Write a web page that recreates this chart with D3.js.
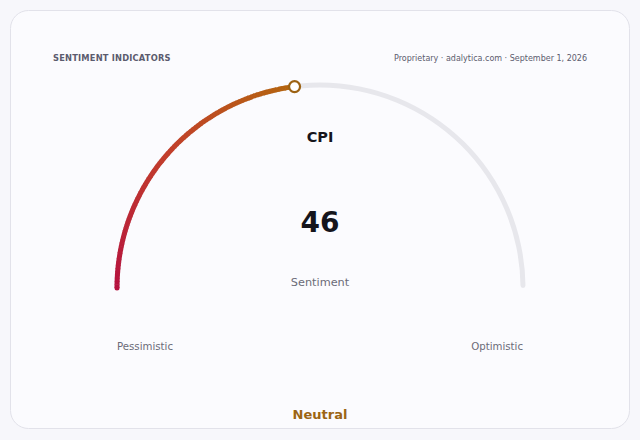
<!DOCTYPE html>
<html>
<head>
<meta charset="utf-8">
<script src="https://cdn.jsdelivr.net/npm/d3@7"></script>
<style>
  html, body { margin: 0; padding: 0; background: #f7f7fb; }
  svg { display: block; font-family: 'DejaVu Sans', sans-serif; }
</style>
</head>
<body>
<div id="chart"></div>
<script>
// gauge data
const indicator = 'CPI';
const value = 46;
const domainExtent = [0, 100];
const endLabels = ['Pessimistic', 'Optimistic'];
const subLabel = 'Sentiment';
const zoneLabel = 'Neutral';
const colorStops = [0, 23, 46];
const colorValues = ['#b5123f', '#c23e2b', '#b4660e'];

const width = 640;
const height = 440;
const cx = 320;
const cy = 288;
const radius = 203;
const thickness = 5;

const svg = d3.select('#chart')
  .append('svg')
  .attr('width', width)
  .attr('height', height);

// card
svg.append('rect')
  .attr('x', 10.5)
  .attr('y', 10.5)
  .attr('width', 619)
  .attr('height', 418)
  .attr('rx', 18)
  .attr('fill', '#fbfbfe')
  .attr('stroke', '#e2e2ea');

svg.append('text')
  .attr('x', 53)
  .attr('y', 61)
  .attr('fill', '#5b5b6e')
  .attr('font-size', '8.3px')
  .attr('font-weight', 'bold')
  .attr('letter-spacing', '0.2px')
  .text('SENTIMENT INDICATORS');

svg.append('text')
  .attr('x', 587)
  .attr('y', 61)
  .attr('text-anchor', 'end')
  .attr('fill', '#5b5b6e')
  .attr('font-size', '8px')
  .text('Proprietary · adalytica.com · September 1, 2026');

const angle = d3.scaleLinear()
  .domain(domainExtent)
  .range([-Math.PI / 2, Math.PI / 2]);

const color = d3.scaleLinear()
  .domain(colorStops)
  .range(colorValues)
  .interpolate(d3.interpolateRgb);

const g = svg.append('g').attr('transform', `translate(${cx}, ${cy})`);

const arc = d3.arc()
  .innerRadius(radius - thickness / 2)
  .outerRadius(radius + thickness / 2);

// background track
g.append('path')
  .attr('d', arc.cornerRadius(thickness / 2)({
    startAngle: angle(domainExtent[0]),
    endAngle: angle(domainExtent[1])
  }))
  .attr('fill', '#e7e7ec');

// value arc drawn as small coloured pieces
const step = 0.5;
const pieces = d3.range(domainExtent[0], value, step);
arc.cornerRadius(0);
g.selectAll('.piece')
  .data(pieces)
  .join('path')
  .attr('class', 'piece')
  .attr('d', (d) => arc({
    startAngle: angle(d),
    endAngle: angle(Math.min(d + step * 1.2, value))
  }))
  .attr('fill', (d) => color(d + step / 2));

// round cap at the start
g.append('circle')
  .attr('cx', radius * Math.sin(angle(domainExtent[0])))
  .attr('cy', -radius * Math.cos(angle(domainExtent[0])))
  .attr('r', thickness / 2)
  .attr('fill', color(0));

// marker
g.append('circle')
  .attr('cx', radius * Math.sin(angle(value)))
  .attr('cy', -radius * Math.cos(angle(value)))
  .attr('r', 5.5)
  .attr('fill', '#ffffff')
  .attr('stroke', '#9c6213')
  .attr('stroke-width', 2.2);

// centre texts
svg.append('text')
  .attr('x', cx)
  .attr('y', 142)
  .attr('text-anchor', 'middle')
  .attr('fill', '#15151c')
  .attr('font-size', '14.5px')
  .attr('font-weight', 'bold')
  .text(indicator);

svg.append('text')
  .attr('x', cx)
  .attr('y', 232)
  .attr('text-anchor', 'middle')
  .attr('fill', '#15151c')
  .attr('font-size', '28px')
  .attr('font-weight', 'bold')
  .text(value);

svg.append('text')
  .attr('x', cx)
  .attr('y', 286)
  .attr('text-anchor', 'middle')
  .attr('fill', '#6b6b78')
  .attr('font-size', '11.3px')
  .text(subLabel);

svg.append('text')
  .attr('x', cx - radius)
  .attr('y', 350)
  .attr('fill', '#6b6b78')
  .attr('font-size', '10.2px')
  .text(endLabels[0]);

svg.append('text')
  .attr('x', cx + radius)
  .attr('y', 350)
  .attr('text-anchor', 'end')
  .attr('fill', '#6b6b78')
  .attr('font-size', '10.2px')
  .text(endLabels[1]);

svg.append('text')
  .attr('x', cx)
  .attr('y', 419)
  .attr('text-anchor', 'middle')
  .attr('fill', '#9c6513')
  .attr('font-size', '13px')
  .attr('font-weight', 'bold')
  .text(zoneLabel);
</script>
</body>
</html>
